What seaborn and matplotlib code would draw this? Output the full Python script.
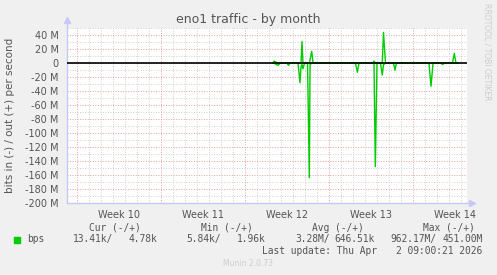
import matplotlib
matplotlib.use('Agg')
import matplotlib.pyplot as plt
import matplotlib.patches as mpatches
import seaborn as sns
import pandas as pd

# ---------------- data ----------------
# time in days since Monday of Week 10 (2026-03-02)
days = [16.33, 16.42, 16.75, 16.92, 17.50, 17.62, 17.75, 18.42, 18.58, 18.67,
        18.75, 18.83, 18.96, 19.21, 19.36, 19.42, 19.56, 19.67, 23.21, 23.36,
        23.50, 24.67, 24.75, 24.86, 25.00, 25.29, 25.44, 25.54, 25.71, 26.38,
        26.50, 26.62, 29.33, 29.50, 29.67, 30.33, 30.47, 30.58, 31.29, 31.44,
        31.58, 31.75]
# inbound traffic in Mbit/s (drawn below zero)
in_mbps = [0, 0, 3, 0, 0, 3, 0, 0, 28, 5,
           2, 8, 0, 0, 164, 2, 0, 0, 0, 13,
           0, 0, 0, 148, 0, 0, 17, 2, 0, 0,
           10, 0, 0, 33, 0, 0, 2, 0, 0, 0,
           0, 0]
# outbound traffic in Mbit/s (drawn above zero)
out_mbps = [0, 3, 0, 0, 0, 0, 0, 0, 0, 0,
            31, 0, 0, 0, 0, 5, 17, 0, 0, 0,
            0, 0, 3, 0, 0, 0, 0, 44, 0, 0,
            0, 0, 0, 0, 0, 0, 0, 0, 0, 14,
            0, 0]

week_labels = ['Week 10', 'Week 11', 'Week 12', 'Week 13', 'Week 14']
week_mid = [3.5, 10.5, 17.5, 24.5, 31.5]
week_start = [0, 7, 14, 21, 28]
y_major = [40, 20, 0, -20, -40, -60, -80, -100, -120, -140, -160, -180, -200]
y_labels = ['40 M', '20 M', '0', '-20 M', '-40 M', '-60 M', '-80 M', '-100 M',
            '-120 M', '-140 M', '-160 M', '-180 M', '-200 M']

title = 'eno1 traffic - by month'
ylabel = 'bits in (-) / out (+) per second'
series_name = 'bps'
cur_vals = ('13.41k/', '4.78k')
min_vals = ('5.84k/', '1.96k')
avg_vals = ('3.28M/', '646.51k')
max_vals = ('962.17M/', '451.00M')
last_update = ('Last update: Thu Apr', '2 09:00:21 2026')

# ---------------- figure ----------------
sns.set_theme(style='white')
plt.rcParams['font.family'] = ['DejaVu Sans']

W, H = 497, 275
BG = '#F0F0F0'
TXT = '#555555'
GREEN = '#00CC00'
AXC = '#C8C8F8'

fig = plt.figure(figsize=(W / 100, H / 100), dpi=100, facecolor=BG)
L, R, T, B = 67, 467, 27.5, 203
ax = fig.add_axes([L / W, 1 - B / H, (R - L) / W, (B - T) / H])
ax.set_facecolor('white')

xmin, xmax = (L - 77) / 12, (R - 77) / 12
ax.set_xlim(xmin, xmax)
ax.set_ylim(-200, 51)

# grid
for d in range(0, 33):
    if d in week_start:
        continue
    ax.axvline(d, color='#CFCFCF', lw=0.7, dashes=(1, 1.6), zorder=0.5)
for d in week_start:
    ax.axvline(d, color='#E6A0A0', lw=0.7, dashes=(1, 1.6), zorder=0.6)
for v in range(-190, 51, 10):
    if v in y_major:
        continue
    ax.axhline(v, color='#CFCFCF', lw=0.7, dashes=(1, 1.6), zorder=0.5)
for v in y_major:
    ax.axhline(v, color='#E6A0A0', lw=0.7, dashes=(1, 1.6), zorder=0.6)

df = pd.DataFrame({'day': days,
                   'inv': [-v for v in in_mbps],
                   'outv': out_mbps})
sns.lineplot(data=df, x='day', y='inv', color=GREEN, lw=1.0, ax=ax,
             estimator=None, sort=False, zorder=2)
sns.lineplot(data=df, x='day', y='outv', color=GREEN, lw=1.0, ax=ax,
             estimator=None, sort=False, zorder=2)
ax.axhline(0, color='black', lw=1.2, zorder=3)

ax.set_xlabel('')
ax.set_ylabel('')
ax.set_xticks(week_mid)
ax.set_xticklabels(week_labels, fontsize=7, color=TXT)
ax.set_yticks(y_major)
ax.set_yticklabels(y_labels, fontsize=7, color=TXT)
ax.tick_params(axis='both', length=0)
ax.tick_params(axis='x', pad=5)
ax.tick_params(axis='y', pad=6)

for s in ['top', 'right']:
    ax.spines[s].set_visible(False)
for s in ['left', 'bottom']:
    ax.spines[s].set_color(AXC)
    ax.spines[s].set_linewidth(1.0)

# axis arrows
ax.plot([0, 0], [1, 1.03], transform=ax.transAxes, color=AXC, lw=1, clip_on=False)
ax.plot([0], [1.04], marker='^', ms=5, color=AXC, transform=ax.transAxes, clip_on=False)
ax.plot([1, 1.01], [0, 0], transform=ax.transAxes, color=AXC, lw=1, clip_on=False)
ax.plot([1.013], [0], marker='>', ms=5, color=AXC, transform=ax.transAxes, clip_on=False)

def fx(x):
    return x / W

def fy(y):
    return 1 - y / H

fig.text(fx(248.5), fy(19), title, ha='center', va='center', fontsize=9, color=TXT)
fig.text(fx(10), fy((T + B) / 2), ylabel, ha='center', va='center', rotation=90,
         fontsize=7.5, color=TXT)
fig.text(fx(487), fy(52), 'RRDTOOL / TOBI OETIKER', ha='center', va='center',
         rotation=270, fontsize=5.5, color='#CCCCCC')

mono = dict(family='DejaVu Sans Mono', fontsize=6.9, color=TXT, va='center')
yh, yr, yl = 227.7, 239.3, 251
fig.text(fx(89.3), fy(yh), 'Cur (-/+)', ha='left', **mono)
fig.text(fx(200.7), fy(yh), 'Min (-/+)', ha='left', **mono)
fig.text(fx(312), fy(yh), 'Avg (-/+)', ha='left', **mono)
fig.text(fx(422.7), fy(yh), 'Max (-/+)', ha='left', **mono)

fig.patches.append(mpatches.Rectangle((fx(14), fy(242.5)), 6 / W, 6 / H,
                                      transform=fig.transFigure, color=GREEN))
fig.text(fx(26.7), fy(yr), series_name, ha='left', **mono)
fig.text(fx(72.7), fy(yr), cur_vals[0], ha='left', **mono)
fig.text(fx(157.3), fy(yr), cur_vals[1], ha='right', **mono)
fig.text(fx(186), fy(yr), min_vals[0], ha='left', **mono)
fig.text(fx(266), fy(yr), min_vals[1], ha='right', **mono)
fig.text(fx(295), fy(yr), avg_vals[0], ha='left', **mono)
fig.text(fx(375), fy(yr), avg_vals[1], ha='right', **mono)
fig.text(fx(390), fy(yr), max_vals[0], ha='left', **mono)
fig.text(fx(482.3), fy(yr), max_vals[1], ha='right', **mono)
fig.text(fx(261.7), fy(yl), last_update[0], ha='left', **mono)
fig.text(fx(482.3), fy(yl), last_update[1], ha='right', **mono)

fig.text(fx(248), fy(264), 'Munin 2.0.73', ha='center', va='center', fontsize=5.5,
         color='#CCCCCC')

fig.savefig('out.png', dpi=100, facecolor=BG)
